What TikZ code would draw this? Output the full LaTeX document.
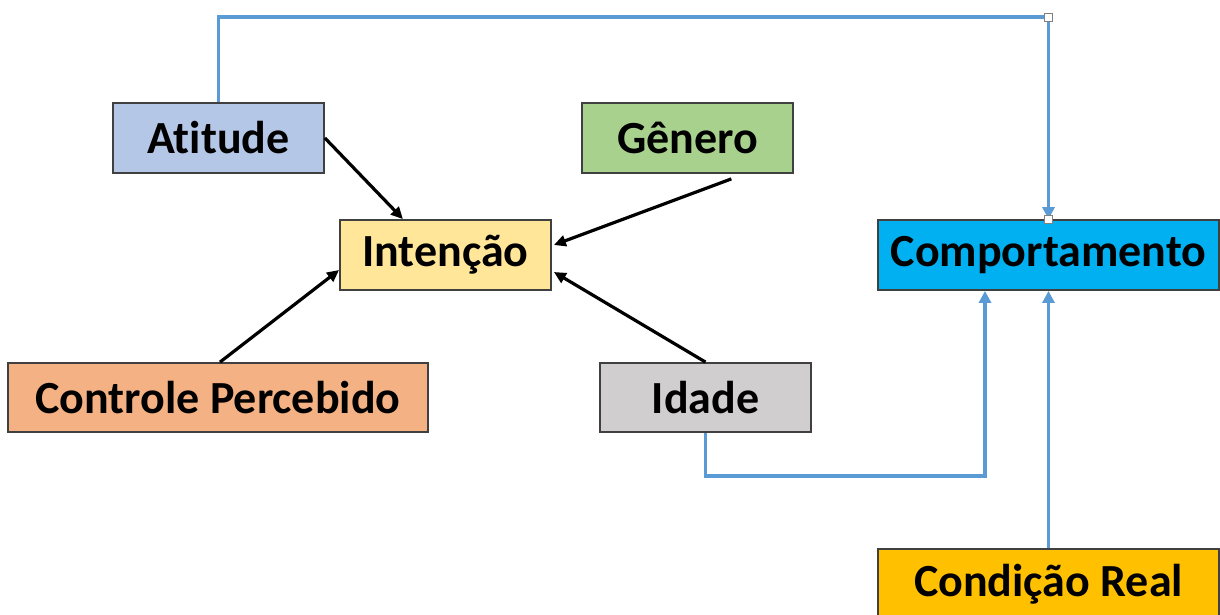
\documentclass[tikz,border=0pt]{standalone}
\usepackage{fontspec}
\setmainfont{Carlito}[Ligatures=NoCommon]
\usetikzlibrary{arrows.meta,calc}
\definecolor{cAt}{HTML}{B4C7E7}
\definecolor{cIn}{HTML}{FFE699}
\definecolor{cGe}{HTML}{A9D18E}
\definecolor{cCo}{HTML}{00B0F0}
\definecolor{cCt}{HTML}{F4B183}
\definecolor{cId}{HTML}{D0CECE}
\definecolor{cCr}{HTML}{FFC000}
\definecolor{cBl}{HTML}{5B9BD5}
\definecolor{cBd}{HTML}{404040}
\tikzset{
  box/.style={draw=cBd, line width=1.8pt, inner sep=0pt, minimum height=70pt,
    font=\fontsize{46}{54}\selectfont\bfseries, text=black},
  blk/.style={draw=black, line width=3.2pt, -{Triangle[length=12pt,width=11pt]}},
  blu/.style={draw=cBl, line width=3.8pt, -{Triangle[length=12pt,width=12pt]}},
  handle/.style={draw=gray, fill=white, line width=1pt, minimum size=8pt, inner sep=0pt}
}
\begin{document}
\begin{tikzpicture}[x=1pt,y=-1pt]
\useasboundingbox[fill=white] (0,0) rectangle (1220,614);
\node[box, fill=cAt, minimum width=211pt] (att) at (218.5,138) {Atitude};
\node[box, fill=cIn, minimum width=211pt] (int) at (445.5,255) {Intenção};
\node[box, fill=cGe, minimum width=211pt] (gen) at (687.5,138) {Gênero};
\node[box, fill=cCo, minimum width=341pt] (comp) at (1048.5,255) {Comportamento};
\node[box, fill=cCt, minimum width=420pt, minimum height=69pt] (ctl) at (218,397.5) {Controle Percebido};
\node[box, fill=cId, minimum width=211pt, minimum height=69pt] (ida) at (705.5,397.5) {Idade};
\node[box, fill=cCr, minimum width=341pt] (cond) at (1048.5,584) {Condição Real};

\coordinate (tr) at (1048.5,17);
\coordinate (ib) at (985,476);

% black arrows
\draw[blk] (att.east) -- ($(int.north west)!0.3!(int.north east)$);
\draw[blk] ($(gen.south west)!0.706!(gen.south east)+(0,5)$) -- ($(int.east)+(2,-10)$);
\draw[blk] (ida.north) -- ($(int.east)+(2,17)$);
\draw[blk] ($(ctl.north)+(2,0)$) -- ($(int.west)+(0,15)$);

% blue connectors
\draw[blu] (att.north) |- (tr) -- (comp.north);
\draw[blu] (ida.south) |- (ib) -- (ib |- comp.south);
\draw[blu] (cond.north) -- (comp.south);

\node[handle] (h1) at (tr) {};
\node[handle] (h2) at (comp.north) {};
\end{tikzpicture}
\end{document}
